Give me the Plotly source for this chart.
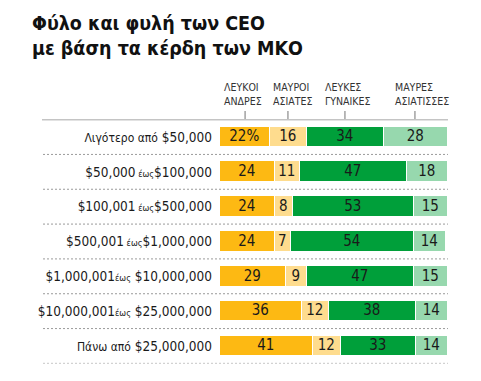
import plotly.graph_objects as go

categories = [
    "<span style='font-size:12px'>Λιγότερο από</span> $50,000",
    "$50,000<span style='font-size:9px'> έως</span>$100,000",
    "$100,001<span style='font-size:9px'> έως</span>$500,000",
    "$500,001<span style='font-size:9px'> έως</span>$1,000,000",
    "$1,000,001<span style='font-size:9px'>έως</span> $10,000,000",
    "$10,000,001<span style='font-size:9px'>έως</span> $25,000,000",
    "<span style='font-size:12px'>Πάνω από</span> $25,000,000",
]
series_names = ["ΛΕΥΚΟΙ<br>ΑΝΔΡΕΣ", "ΜΑΥΡΟΙ<br>ΑΣΙΑΤΕΣ", "ΛΕΥΚΕΣ<br>ΓΥΝΑΙΚΕΣ", "ΜΑΥΡΕΣ<br>ΑΣΙΑΤΙΣΣΕΣ"]
white_men = [22, 24, 24, 24, 29, 36, 41]
black_asian_men = [16, 11, 8, 7, 9, 12, 12]
white_women = [34, 47, 53, 54, 47, 38, 33]
black_asian_women = [28, 18, 15, 14, 15, 14, 14]
header_tick_x = [11, 29.8, 54.8, 85.5]
header_left_px = [222, 271, 323, 393]

colors = ["#FDB913", "#FEDC8E", "#009F3A", "#97D8AE"]
series = [white_men, black_asian_men, white_women, black_asian_women]

# page body has an 8px margin: work in window pixels and convert
OFF = 8
W, H = 481 - 2 * OFF, 381 - 2 * OFF
FONT = "DejaVu Sans Condensed, Liberation Sans, sans-serif"


def px(x):
    return (x - OFF) / W


def py(y):
    return 1 - (y - OFF) / H


fig = go.Figure()
ypos = list(range(len(categories)))
for i, (vals, col) in enumerate(zip(series, colors)):
    txt = [f"{v}%" if (i == 0 and j == 0) else str(v) for j, v in enumerate(vals)]
    fig.add_trace(go.Bar(
        y=ypos, x=vals, orientation="h", width=0.62,
        marker=dict(color=col, line=dict(color="white", width=1.3)),
        text=txt, textposition="inside", insidetextanchor="middle",
        textangle=0, constraintext="none",
        textfont=dict(family=FONT, size=15, color="#1a1a1a"),
        hoverinfo="skip", showlegend=False,
    ))

shapes = []
shapes.append(dict(type="line", xref="paper", yref="y", x0=px(42), x1=px(448),
                   y0=-0.5, y1=-0.5, line=dict(color="#8a8a8a", width=1.5)))
for tx in header_tick_x:
    shapes.append(dict(type="line", xref="x", yref="paper", x0=tx, x1=tx,
                       y0=py(111), y1=py(119), line=dict(color="#8a8a8a", width=1.2)))
for k in range(len(categories)):
    shapes.append(dict(type="line", xref="paper", yref="y", x0=px(43), x1=px(448),
                       y0=k + 0.5, y1=k + 0.5,
                       line=dict(color="#9a9a9a", width=1, dash="2px,2px")))

annotations = []
annotations.append(dict(
    text="<b>Φύλο και φυλή των CEO<br>με βάση τα κέρδη των ΜΚΟ</b>",
    xref="paper", yref="paper", x=px(30), y=py(36.5),
    xanchor="left", yanchor="middle", align="left", showarrow=False,
    font=dict(family="DejaVu Sans Condensed, Liberation Sans, sans-serif", size=19.5, color="#111"),
))
for name, lx in zip(series_names, header_left_px):
    annotations.append(dict(
        text=name, xref="paper", yref="paper", x=px(lx), y=py(94),
        xanchor="left", yanchor="middle", align="left", showarrow=False,
        font=dict(family=FONT, size=10.5, color="#333"),
    ))

fig.update_layout(
    width=W, height=H, barmode="stack", bargap=0,
    margin=dict(l=0, r=0, t=0, b=0),
    paper_bgcolor="white", plot_bgcolor="white",
    xaxis=dict(domain=[px(220), px(448)], range=[0, 100], visible=False, fixedrange=True),
    yaxis=dict(domain=[py(363.4), py(119.6)], range=[6.5, -0.5],
               tickmode="array", tickvals=ypos, ticktext=categories,
               showgrid=False, zeroline=False, showline=False, ticks="",
               ticklabelstandoff=7,
               tickfont=dict(family=FONT, size=13.5, color="#1a1a1a")),
    shapes=shapes, annotations=annotations,
)
fig.write_html("out.html")
